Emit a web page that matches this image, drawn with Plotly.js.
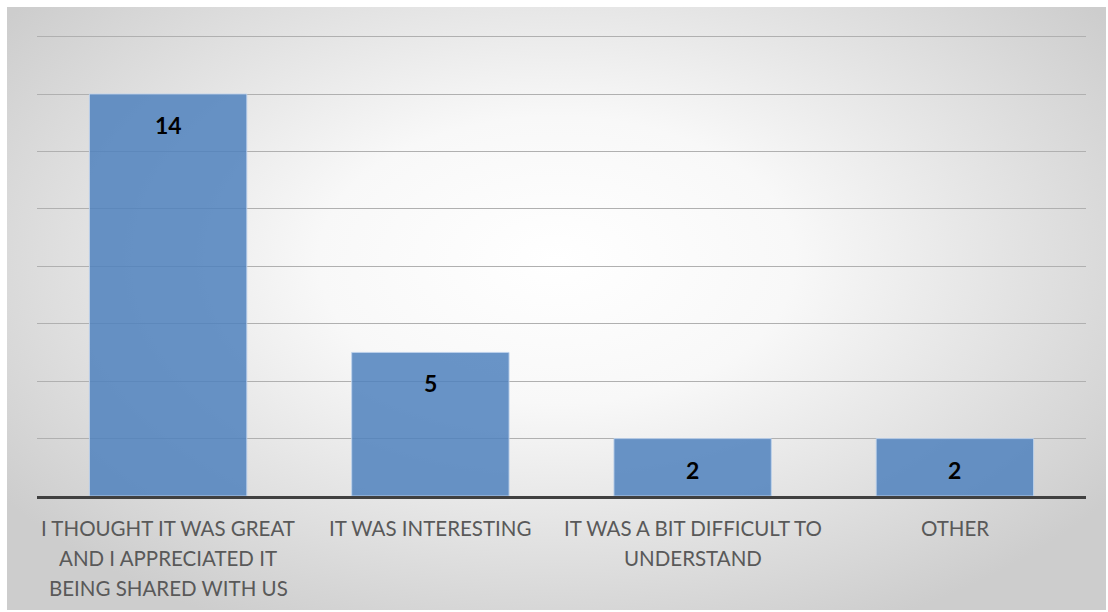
<!DOCTYPE html>
<html>
<head>
<meta charset="utf-8">
<script src="https://cdn.plot.ly/plotly-3.0.1.min.js"></script>
<style>
  html, body { margin: 0; padding: 0; background: #ffffff; }
  #bg { position: absolute; left: 7px; top: 7px; width: 1099px; height: 603px;
        background: radial-gradient(ellipse 62% 68% at 50% 42%, #ffffff 0%, #f8f8f8 35%, #cdcdcd 100%); }
  #chart { position: absolute; left: 0; top: 0; width: 1108px; height: 612px; }
</style>
</head>
<body>
<div id="bg"></div>
<div id="chart"></div>
<script>
const categories = ["great", "interesting", "difficult", "other"];
const tickLabels = [
  ["I THOUGHT IT WAS GREAT", "AND I APPRECIATED IT", "BEING SHARED WITH US"],
  ["IT WAS INTERESTING"],
  ["IT WAS A BIT DIFFICULT TO", "UNDERSTAND"],
  ["OTHER"]
];
const values = [14, 5, 2, 2];

const trace = {
  type: "bar",
  x: categories,
  y: values,
  marker: { color: "rgba(79,129,189,0.85)", line: { color: "rgba(190,210,235,0.9)", width: 1 } },
  hoverinfo: "none"
};

const annotations = categories.map((c, i) => ({
  x: c, y: values[i], xref: "x", yref: "y",
  text: String(values[i]), showarrow: false,
  yshift: -31,
  font: { family: "Lato, 'Open Sans', sans-serif", size: 23, color: "#000000", weight: "bold" }
}));

categories.forEach((c, i) => {
  tickLabels[i].forEach((line, j) => {
    annotations.push({
      x: c, y: 0, xref: "x", yref: "paper",
      text: line, showarrow: false,
      yanchor: "middle",
      yshift: -32 - 30 * j,
      font: { family: "Lato, 'Open Sans', sans-serif", size: 20.5, color: "#595959" }
    });
  });
});

const layout = {
  width: 1108, height: 612,
  margin: { l: 37, r: 22, t: 28, b: 116 },
  paper_bgcolor: "rgba(0,0,0,0)",
  plot_bgcolor: "rgba(0,0,0,0)",
  bargap: 0.4,
  showlegend: false,
  xaxis: {
    tickvals: categories,
    showticklabels: false,
    showline: true, linecolor: "#404040", linewidth: 3,
    showgrid: false, ticks: ""
  },
  yaxis: {
    range: [0, 16.3], tickvals: [2, 4, 6, 8, 10, 12, 14, 16],
    showgrid: true, gridcolor: "#b0b0b0", gridwidth: 1,
    zeroline: false, showticklabels: false, ticks: ""
  },
  annotations: annotations
};

Plotly.newPlot("chart", [trace], layout, { displayModeBar: false, staticPlot: true });
</script>
</body>
</html>
